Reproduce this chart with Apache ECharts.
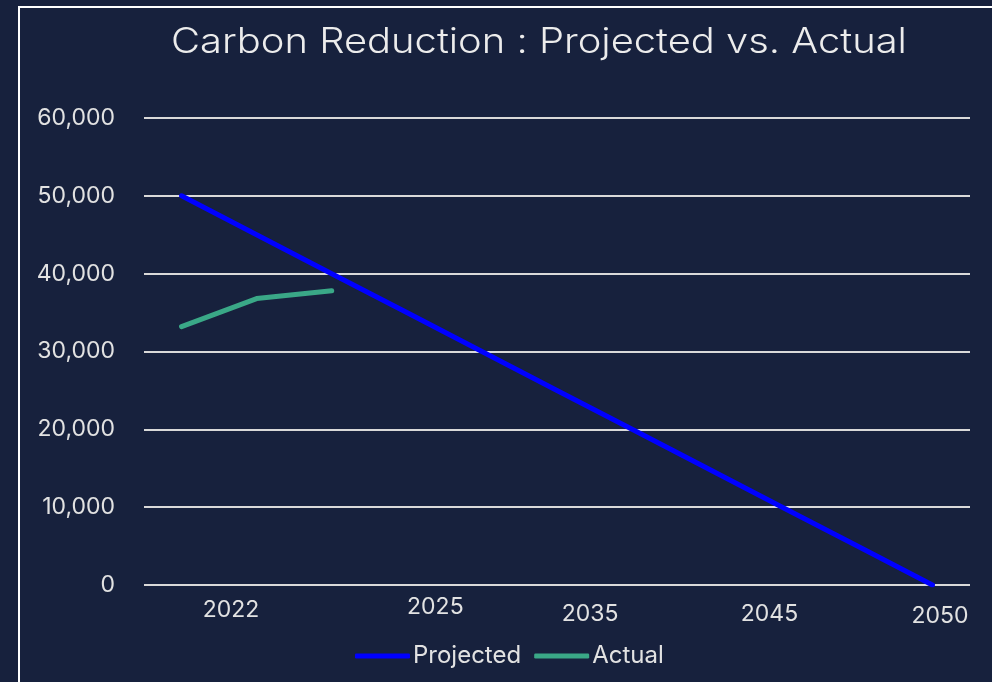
<!DOCTYPE html>
<html>
<head>
<meta charset="utf-8">
<script src="https://cdn.jsdelivr.net/npm/echarts@6/dist/echarts.min.js"></script>
<style>
html,body{margin:0;padding:0;background:#17213d;}
#chart{width:992px;height:682px;}
</style>
</head>
<body>
<div id="chart"></div>
<script>
// ---- data ----
const titleText = 'Carbon Reduction : Projected vs. Actual';
const pointIndex = [0, 1, 2, 3, 4, 5, 6, 7, 8, 9, 10];
const projected = [50000, 45000, 40000, 35000, 30000, 25000, 20000, 15000, 10000, 5000, 0];
const actual = [33200, 36800, 37800];
const xTickLabels = ['2022', '2025', '2035', '2045', '2050'];
const yTicks = [0, 10000, 20000, 30000, 40000, 50000, 60000];

// ---- layout (label slots along the x axis, in point-index units) ----
const labelSlots = [0.66, 3.38, 5.44, 7.83, 10.1];
const labelDrop = [3, 0, 7, 7, 9];

const chart = echarts.init(document.getElementById('chart'));
const textColor = '#e2e2e2';
const rich = {};
labelDrop.forEach((d, k) => {
  rich['o' + k] = { fontFamily: 'Inter', fontSize: 23, color: textColor, padding: [d, 0, 0, 0] };
});

chart.setOption({
  backgroundColor: '#17213d',
  legend: {
    left: 350,
    top: 639,
    itemWidth: 55,
    itemHeight: 5,
    itemGap: 13,
    icon: 'roundRect',
    textStyle: { fontFamily: 'Inter', fontSize: 24, color: textColor, padding: [0, 0, 0, -2] },
    data: ['Projected', 'Actual']
  },
  grid: { left: 144, right: 22, top: 118, bottom: 97, containLabel: false },
  xAxis: {
    type: 'value',
    min: -0.5,
    max: 10.5,
    axisLine: { show: false },
    axisTick: { show: false },
    splitLine: { show: false },
    axisLabel: {
      customValues: labelSlots,
      margin: 11,
      formatter: function (v) {
        let k = 0, best = Infinity;
        labelSlots.forEach((s, i) => { if (Math.abs(s - v) < best) { best = Math.abs(s - v); k = i; } });
        return '{o' + k + '|' + xTickLabels[k] + '}';
      },
      rich: rich
    }
  },
  yAxis: {
    type: 'value',
    min: yTicks[0],
    max: yTicks[yTicks.length - 1],
    interval: yTicks[1] - yTicks[0],
    axisLine: { show: false },
    axisTick: { show: false },
    axisLabel: {
      margin: 29,
      fontFamily: 'Inter',
      fontSize: 23,
      color: textColor,
      formatter: v => v.toLocaleString('en-US')
    },
    splitLine: { lineStyle: { color: '#d9d9d9', width: 2 } }
  },
  series: [
    {
      name: 'Projected',
      type: 'line',
      data: projected.map((v, i) => [pointIndex[i], v]),
      symbol: 'none',
      color: '#0000ff',
      lineStyle: { width: 5, color: '#0000ff', cap: 'round' }
    },
    {
      name: 'Actual',
      type: 'line',
      data: actual.map((v, i) => [pointIndex[i], v]),
      symbol: 'none',
      color: '#3aa887',
      lineStyle: { width: 5, color: '#3aa887', cap: 'round', join: 'round' }
    }
  ],
  graphic: [
    {
      type: 'rect',
      shape: { x: 19, y: 7, width: 1000, height: 700 },
      style: { fill: 'none', stroke: '#ffffff', lineWidth: 2 },
      silent: true
    },
    {
      type: 'text',
      x: 539,
      y: 42,
      scaleX: 1.14,
      silent: true,
      style: {
        text: titleText,
        textAlign: 'center',
        textVerticalAlign: 'middle',
        fontFamily: 'Inter',
        fontWeight: 300,
        fontSize: 35,
        fill: '#ececec'
      }
    }
  ]
});
</script>
</body>
</html>
